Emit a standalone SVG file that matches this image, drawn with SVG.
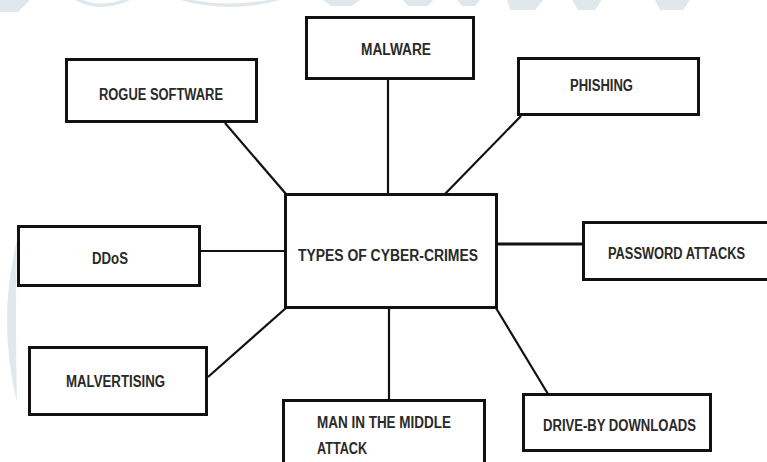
<svg xmlns="http://www.w3.org/2000/svg" width="767" height="462" viewBox="0 0 767 462">
<style>
.box{fill:#fff;stroke:#111;stroke-width:3}
.lbl{font-family:"Liberation Sans Narrow","Liberation Sans",Arial,sans-serif;font-size:16px;font-weight:bold;fill:#2a2a2a}
.con{stroke:#111;stroke-width:2.2;fill:none}
.wm{fill:#e1e8ed}
</style>
<rect width="767" height="462" fill="#fff"/>
<g id="watermark">
<path class="wm" d="M17,240 Q-3,321 17,402 Q15,321 17,240 Z"/>
<path class="wm" d="M0,0 L30,0 L18,12 L0,12 Z"/>
<path class="wm" d="M75,0 Q100,14 130,0 L122,0 Q100,7 83,0 Z"/>
<path class="wm" d="M180,0 Q230,14 280,0 L268,0 Q230,7 192,0 Z"/>
<path class="wm" d="M323,0 L360,0 L352,6 L331,6 Z"/>
<path class="wm" d="M403,0 L433,0 L428,6 L408,6 Z"/>
<path class="wm" d="M457,0 L480,0 L475,6 L462,6 Z"/>
<path class="wm" d="M507,0 L543,0 L535,10 L510,10 Z"/>
<path class="wm" d="M572,0 L602,0 L595,10 L578,10 Z"/>
<path class="wm" d="M655,0 L690,0 L683,10 L660,10 Z"/>
</g>
<g id="connectors">
<line class="con" x1="388" y1="80" x2="388" y2="194"/>
<line class="con" x1="225" y1="123" x2="286" y2="194"/>
<line class="con" x1="521" y1="116" x2="445" y2="194"/>
<line class="con" x1="201" y1="251" x2="285" y2="251"/>
<line class="con" x1="497" y1="244" x2="583" y2="244" style="stroke-width:3"/>
<line class="con" x1="208" y1="377" x2="286" y2="308"/>
<line class="con" x1="389" y1="308" x2="389" y2="400"/>
<line class="con" x1="496" y1="308" x2="548" y2="394"/>
</g>
<g id="malware">
<rect class="box" x="306.5" y="17.5" width="167" height="61"/>
<text class="lbl" x="361" y="55" textLength="70" lengthAdjust="spacingAndGlyphs">MALWARE</text>
</g>
<g id="rogue-software">
<rect class="box" x="66.5" y="59.5" width="190" height="62"/>
<text class="lbl" x="99" y="100" textLength="124" lengthAdjust="spacingAndGlyphs">ROGUE SOFTWARE</text>
</g>
<g id="phishing">
<rect class="box" x="518.5" y="58.5" width="180" height="56"/>
<text class="lbl" x="570" y="91" textLength="63" lengthAdjust="spacingAndGlyphs">PHISHING</text>
</g>
<g id="types-of-cyber-crimes">
<rect class="box" x="285.5" y="194.5" width="211" height="113"/>
<text class="lbl" x="298" y="261" textLength="180" lengthAdjust="spacingAndGlyphs">TYPES OF CYBER-CRIMES</text>
</g>
<g id="ddos">
<rect class="box" x="18.5" y="226.5" width="181" height="59"/>
<text class="lbl" x="92" y="264" textLength="36" lengthAdjust="spacingAndGlyphs">DDoS</text>
</g>
<g id="password-attacks">
<rect class="box" x="583.5" y="222.5" width="200" height="57"/>
<text class="lbl" x="608" y="259" textLength="137" lengthAdjust="spacingAndGlyphs">PASSWORD ATTACKS</text>
</g>
<g id="malvertising">
<rect class="box" x="29.5" y="347.5" width="177" height="67"/>
<text class="lbl" x="66" y="387" textLength="99" lengthAdjust="spacingAndGlyphs">MALVERTISING</text>
</g>
<g id="man-in-the-middle">
<rect class="box" x="283.5" y="400.5" width="201" height="70"/>
<text class="lbl" x="317" y="428" textLength="134" lengthAdjust="spacingAndGlyphs">MAN IN THE MIDDLE</text>
<text class="lbl" x="317" y="454" textLength="50" lengthAdjust="spacingAndGlyphs">ATTACK</text>
</g>
<g id="drive-by-downloads">
<rect class="box" x="523.5" y="394.5" width="187" height="56"/>
<text class="lbl" x="543" y="431" textLength="153" lengthAdjust="spacingAndGlyphs">DRIVE-BY DOWNLOADS</text>
</g>
</svg>
